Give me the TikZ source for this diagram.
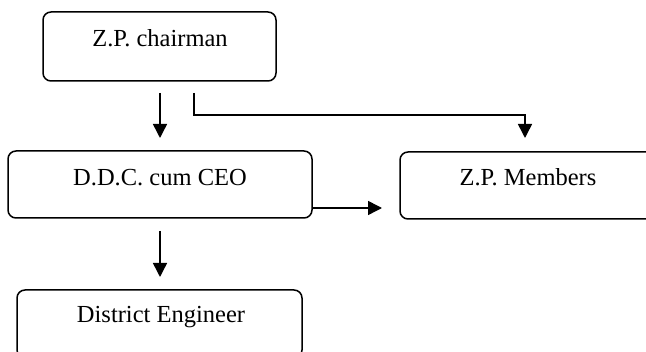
\documentclass[tikz,border=0pt]{standalone}
\usepackage{fontspec}
\setmainfont{Liberation Serif}
\usetikzlibrary{arrows.meta}
\begin{document}
\begin{tikzpicture}[x=1pt,y=-1pt,
  box/.style={draw, line width=1.5pt, rounded corners=8pt, inner sep=0pt},
  lbl/.style={anchor=base, inner sep=0pt, font=\fontsize{24.5}{28}\selectfont},
  conn/.style={line width=1.5pt, -{Triangle[length=14pt,width=14pt]}},
  plain/.style={line width=1.5pt}]
\useasboundingbox (0,0) rectangle (646,352);
% boxes
\node[box, minimum width=233pt, minimum height=69pt] (zp) at (159.5,46.5) {};
\node[box, minimum width=304pt, minimum height=67pt] (ddc) at (160,184.5) {};
\node[box, minimum width=262pt, minimum height=67pt] (mem) at (531,185.5) {};
\node[box, minimum width=285pt, minimum height=68pt] (de) at (159.5,324) {};
% labels
\node[lbl] (zpt) at (160,47) {Z.P. chairman};
\node[lbl] (ddct) at (160,186) {D.D.C. cum CEO};
\node[lbl] (memt) at (528,186) {Z.P. Members};
\node[lbl] (det) at (161,323) {District Engineer};
% connector ends
\coordinate (a1s) at (160,93);
\coordinate (a1e) at (160,138);
\coordinate (a2s) at (194,93);
\coordinate (a2e) at (525,138);
\coordinate (a3s) at (312,208);
\coordinate (a3e) at (382,208);
\coordinate (a4s) at (160,231);
\coordinate (a4e) at (160,277);
% connectors
\draw[conn] (a1s) -- (a1e);
\draw[conn] (a2s) -- (194,115) -- (525,115) -- (a2e);
\draw[conn] (a3s) -- (a3e);
\draw[conn] (a4s) -- (a4e);
\end{tikzpicture}
\end{document}
